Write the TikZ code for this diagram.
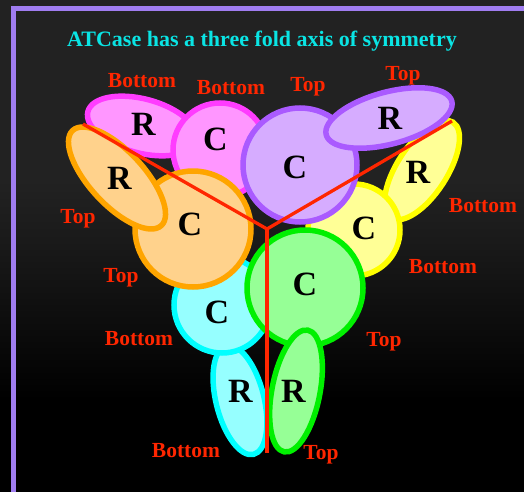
\documentclass[tikz,border=0pt]{standalone}
\usepackage{fontspec}
\setmainfont{Liberation Serif}
\usetikzlibrary{shapes.geometric}
\definecolor{bgtop}{RGB}{34,34,34}
\definecolor{bgmid}{RGB}{26,26,26}
\definecolor{frame}{RGB}{160,125,240}
\definecolor{titlecyan}{RGB}{10,228,228}
\definecolor{labred}{RGB}{255,38,0}
\definecolor{magfill}{RGB}{255,150,255}
\definecolor{magline}{RGB}{255,60,255}
\definecolor{purfill}{RGB}{214,172,255}
\definecolor{purline}{RGB}{170,90,255}
\definecolor{yelfill}{RGB}{255,255,150}
\definecolor{yelline}{RGB}{255,255,0}
\definecolor{orafill}{RGB}{255,210,140}
\definecolor{oraline}{RGB}{255,165,0}
\definecolor{cyafill}{RGB}{150,255,255}
\definecolor{cyaline}{RGB}{0,255,255}
\definecolor{grefill}{RGB}{150,255,150}
\definecolor{greline}{RGB}{0,240,0}
\begin{document}
\begin{tikzpicture}[x=1pt,y=-1pt,
  blob/.style={draw, line width=5.5pt, inner sep=0pt},
  rsub/.style={blob, ellipse},
  csub/.style={blob, circle},
  mag/.style={fill=magfill, draw=magline},
  pur/.style={fill=purfill, draw=purline},
  yel/.style={fill=yelfill, draw=yelline},
  ora/.style={fill=orafill, draw=oraline},
  cya/.style={fill=cyafill, draw=cyaline},
  gre/.style={fill=grefill, draw=greline},
  sublab/.style={font=\bfseries\fontsize{34}{34}\selectfont, text=black, inner sep=0pt},
  sidelab/.style={font=\bfseries\fontsize{21.5}{22}\selectfont, text=labred, anchor=base, inner sep=0pt},
  axisline/.style={draw=labred, line width=3.3pt},
  framestyle/.style={draw=frame, line width=5pt}
]
\useasboundingbox (0,0) rectangle (524,492);
% background
\fill[bgtop] (0,0) rectangle (524,180);
\shade[top color=bgtop, bottom color=bgmid] (0,180) rectangle (524,240);
\shade[top color=bgmid, bottom color=black] (0,240) rectangle (524,400);
\fill[black] (0,400) rectangle (524,492);
% frame
\draw[framestyle] (13.5,492) -- (13.5,9) -- (524,9);
% title
\node[font=\bfseries\fontsize{22}{24}\selectfont, text=titlecyan, anchor=base, inner sep=0pt] (title) at (262,47) {ATCase has a three fold axis of symmetry};
% subunits
\node[rsub, mag, minimum width=112pt, minimum height=54pt, rotate=-15] (magR) at (142,126) {};
\node[csub, mag, minimum size=94pt] (magC) at (220,150) {};
\node[rsub, yel, minimum width=114pt, minimum height=50pt, rotate=57] (yelR) at (422,170) {};
\node[csub, yel, minimum size=92pt] (yelC) at (354,230) {};
\node[csub, pur, minimum size=114pt] (purC) at (300,165) {};
\node[rsub, pur, minimum width=130pt, minimum height=52pt, rotate=15] (purR) at (389,118) {};
\node[rsub, cya, minimum width=112pt, minimum height=48pt, rotate=104] (cyaR) at (240,400) {};
\node[csub, cya, minimum size=96pt] (cyaC) at (222,305) {};
\node[csub, ora, minimum size=116pt] (oraC) at (193,229) {};
\node[rsub, ora, minimum width=130pt, minimum height=54pt, rotate=-47] (oraR) at (117,178) {};
\node[csub, gre, minimum size=116pt] (greC) at (305,288) {};
\node[rsub, gre, minimum width=124pt, minimum height=48pt, rotate=79] (greR) at (296,391) {};
% symmetry axes
\coordinate (ctr) at (267,229);
\coordinate (ul) at (83,124);
\coordinate (ur) at (452,121);
\coordinate (dn) at (267,453);
\draw[axisline] (ul) -- (ctr) -- (ur);
\draw[axisline] (ctr) -- (dn);
% subunit letters
\node[sublab] (tmagR) at (143.5,124) {R};
\node[sublab] (tmagC) at (215.5,139) {C};
\node[sublab] (tpurC) at (295,167) {C};
\node[sublab] (tpurR) at (390,118) {R};
\node[sublab] (tyelR) at (418,172) {R};
\node[sublab] (tyelC) at (364,228) {C};
\node[sublab] (toraR) at (119.5,178) {R};
\node[sublab] (toraC) at (190,224.5) {C};
\node[sublab] (tgreC) at (305,284) {C};
\node[sublab] (tcyaC) at (217,312) {C};
\node[sublab] (tcyaR) at (240.5,391) {R};
\node[sublab] (tgreR) at (293.5,391) {R};
% top / bottom labels
\node[sidelab] (l1) at (142,88) {Bottom};
\node[sidelab] (l2) at (231,95) {Bottom};
\node[sidelab] (l3) at (308,92) {Top};
\node[sidelab] (l4) at (403,81) {Top};
\node[sidelab] (l5) at (78,223) {Top};
\node[sidelab] (l6) at (483,212) {Bottom};
\node[sidelab] (l7) at (121,282) {Top};
\node[sidelab] (l8) at (443,273) {Bottom};
\node[sidelab] (l9) at (139,345) {Bottom};
\node[sidelab] (l10) at (384,346) {Top};
\node[sidelab] (l11) at (186,457) {Bottom};
\node[sidelab] (l12) at (321,459) {Top};
\end{tikzpicture}
\end{document}
